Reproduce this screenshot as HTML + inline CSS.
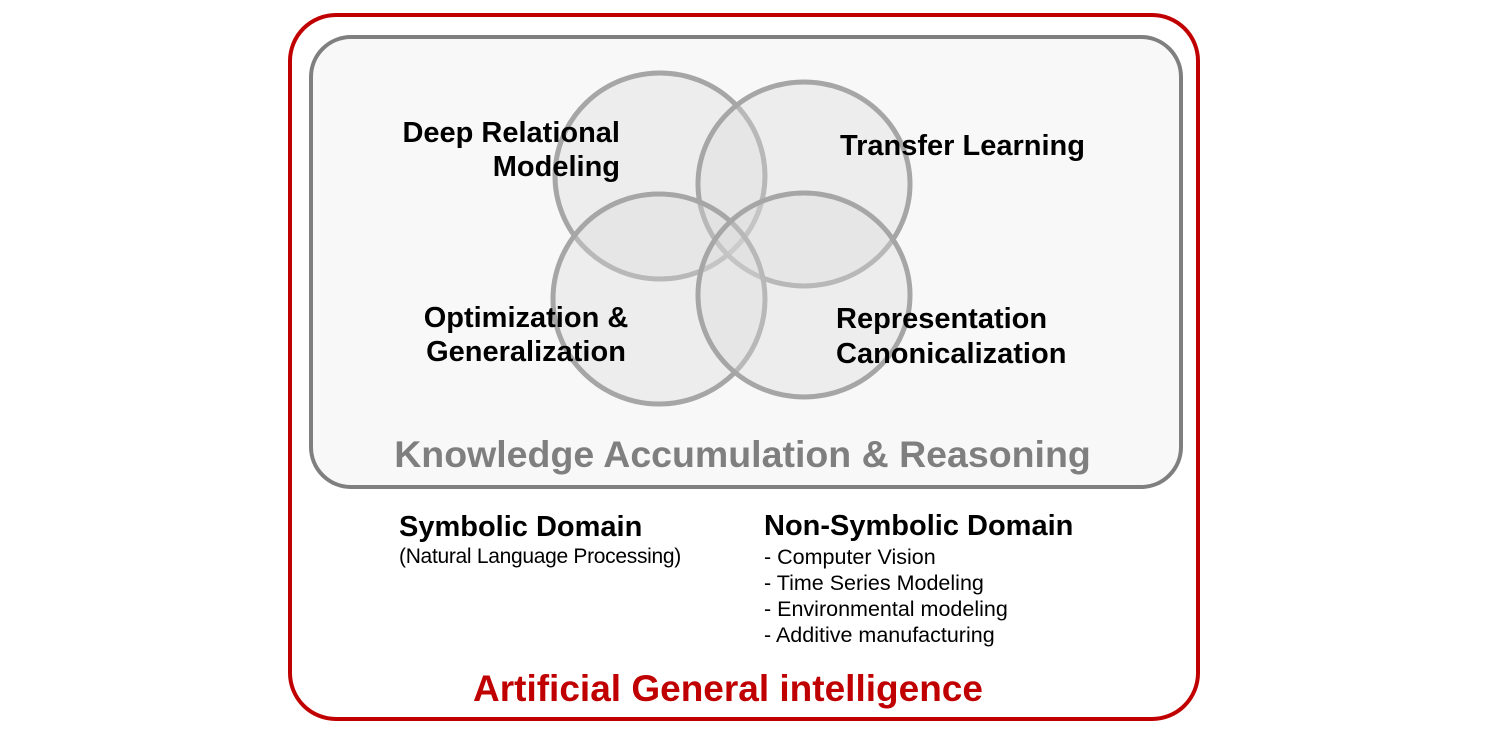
<!DOCTYPE html>
<html><head><meta charset="utf-8"><style>
body{margin:0;width:1485px;height:735px;background:#fff;position:relative;font-family:"Liberation Sans",Arial,sans-serif;overflow:hidden}
.t{position:absolute;white-space:nowrap;line-height:1}
.b{font-weight:bold}
</style></head><body>
<svg width="1485" height="735" style="position:absolute;left:0;top:0">
<rect x="290" y="15" width="908" height="704" rx="46" fill="#fff" stroke="#c00000" stroke-width="4"/>
<rect x="311" y="37" width="870" height="450" rx="40" fill="#f8f8f8" stroke="#7f7f7f" stroke-width="4"/>
<g fill="#d9d9d9" fill-opacity="0.35" stroke="#a6a6a6" stroke-width="5">
<ellipse cx="660" cy="176" rx="105" ry="103"/>
<ellipse cx="804" cy="184" rx="106" ry="102"/>
<ellipse cx="659" cy="299" rx="106" ry="105"/>
<ellipse cx="804" cy="295" rx="106" ry="102"/>
</g>
</svg>
<div class="t b" style="right:865px;top:116px;font-size:29px;text-align:right;line-height:34px">Deep Relational<br>Modeling</div>
<div class="t b" style="left:840px;top:132px;font-size:29px">Transfer Learning</div>
<div class="t b" style="left:400px;top:301px;font-size:29px;text-align:center;line-height:34px;width:252px">Optimization &amp;<br>Generalization</div>
<div class="t b" style="left:836px;top:302px;font-size:29px;line-height:35px">Representation<br>Canonicalization</div>
<div class="t b" style="left:0;width:1485px;text-align:center;top:436px;font-size:37.5px;color:#7f7f7f">Knowledge Accumulation &amp; Reasoning</div>
<div class="t b" style="left:399px;top:513px;font-size:29px">Symbolic Domain</div>
<div class="t" style="left:399px;top:546px;font-size:21px;letter-spacing:-0.3px">(Natural Language Processing)</div>
<div class="t b" style="left:764px;top:512px;font-size:29px">Non-Symbolic Domain</div>
<div class="t" style="left:764px;top:544px;font-size:21.5px;line-height:26px">- Computer Vision<br>- Time Series Modeling<br>- Environmental modeling<br>- Additive manufacturing</div>
<div class="t b" style="left:0;width:1456px;text-align:center;top:670px;font-size:37px;color:#c00000">Artificial General intelligence</div>
</body></html>
